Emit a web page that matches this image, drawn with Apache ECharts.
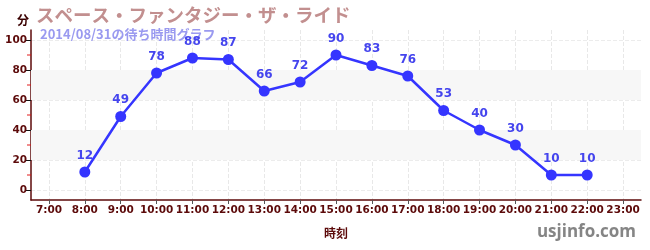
<!DOCTYPE html>
<html>
<head>
<meta charset="utf-8">
<script src="https://cdn.jsdelivr.net/npm/echarts@6/dist/echarts.min.js"></script>
<style>
    html, body { margin: 0; padding: 0; background: #fff; }
    #chart { width: 650px; height: 250px; }
</style>
</head>
<body>
<div id="chart"></div>
<script>
// 待ち時間データ
var hours = [8, 9, 10, 11, 12, 13, 14, 15, 16, 17, 18, 19, 20, 21, 22];
var waitTimes = [12, 49, 78, 88, 87, 66, 72, 90, 83, 76, 53, 40, 30, 10, 10];
var xTicks = [7, 8, 9, 10, 11, 12, 13, 14, 15, 16, 17, 18, 19, 20, 21, 22, 23];
var yTicks = [0, 20, 40, 60, 80, 100];
var yMinorTicks = [10, 30, 50, 70, 90];

var titleText = 'スペース・ファンタジー・ザ・ライド';
var subText = '2014/08/31の待ち時間グラフ';

var axisColor = '#5c0a0a';
var font = '"DejaVu Sans", "Noto Sans CJK JP", sans-serif';

function initChart() {
    var seriesData = [];
    for (var i = 0; i < hours.length; i++) {
        seriesData.push([hours[i], waitTimes[i]]);
    }
    var myChart = echarts.init(document.getElementById('chart'));
    var option = {
        animation: false,
        textStyle: {fontFamily: font},
        title: [{
            text: titleText,
            left: 31,
            top: 1,
            textStyle: {
                color: '#c28f8f',
                fontSize: 18.5,
                fontWeight: 'bold',
                fontFamily: '"Noto Sans CJK JP", sans-serif'
            }
        }, {
            text: subText,
            left: 35,
            top: 23,
            textStyle: {
                color: '#9a9af0',
                fontSize: 13,
                fontWeight: 'bold',
                fontFamily: '"Noto Sans CJK JP", sans-serif'
            }
        }, {
            text: '分',
            left: 12,
            top: 9,
            textStyle: {
                color: '#3a0000',
                fontSize: 12,
                fontWeight: 'bold',
                fontFamily: '"Noto Sans CJK JP", sans-serif'
            }
        }, {
            text: 'usjinfo.com',
            right: 9,
            top: 219,
            textStyle: {
                color: '#858585',
                fontSize: 17,
                fontWeight: 'bold',
                fontFamily: '"Open Sans", "DejaVu Sans", sans-serif'
            }
        }],
        grid: {
            left: 31,
            right: 9,
            top: 30,
            bottom: 50,
            containLabel: false
        },
        xAxis: {
            type: 'value',
            min: 6.5,
            max: 23.5,
            name: '時刻',
            nameLocation: 'middle',
            nameGap: 27,
            nameTextStyle: {
                color: axisColor,
                fontSize: 12,
                fontWeight: 'bold',
                fontFamily: '"Noto Sans CJK JP", sans-serif'
            },
            axisLine: {
                show: true,
                onZero: false,
                lineStyle: {color: axisColor, width: 1.5}
            },
            axisTick: {
                show: true,
                customValues: xTicks,
                length: 4,
                lineStyle: {color: '#555'}
            },
            axisLabel: {
                customValues: xTicks,
                color: axisColor,
                fontSize: 10.5,
                fontWeight: 'bold',
                margin: 5,
                formatter: function (v) {
                    return v + ':00';
                }
            },
            splitLine: {
                show: true,
                lineStyle: {color: '#e8e8e8', type: 'dashed'}
            }
        },
        yAxis: {
            type: 'value',
            min: -20 / 3,
            max: 320 / 3,
            axisLine: {
                show: true,
                lineStyle: {color: axisColor, width: 1.5}
            },
            axisTick: {
                show: true,
                customValues: yTicks,
                length: 5,
                lineStyle: {color: '#111'}
            },
            minorTick: {show: false},
            axisLabel: {
                customValues: yTicks,
                color: axisColor,
                fontSize: 10.5,
                fontWeight: 'bold',
                margin: 4
            },
            splitLine: {
                show: true,
                lineStyle: {color: '#ececec', type: 'dashed'}
            }
        },
        series: [{
            // 灰色の帯
            type: 'line',
            data: [],
            silent: true,
            markArea: {
                silent: true,
                itemStyle: {color: '#f7f7f7'},
                data: [
                    [{yAxis: 20}, {yAxis: 40}],
                    [{yAxis: 60}, {yAxis: 80}]
                ]
            }
        }, {
            // 副目盛り(赤)
            type: 'scatter',
            data: yMinorTicks.map(function (v) { return [6.5, v]; }),
            symbol: 'rect',
            symbolSize: [4, 1.2],
            symbolOffset: [-2, 0],
            clip: false,
            silent: true,
            itemStyle: {color: '#e01010'},
            z: 5
        }, {
            name: '待ち時間',
            type: 'line',
            data: seriesData,
            symbol: 'circle',
            symbolSize: 11,
            z: 10,
            lineStyle: {color: '#3535ff', width: 2.5},
            itemStyle: {color: '#3535ff'},
            label: {
                show: true,
                position: 'top',
                distance: 5,
                color: '#4545ee',
                fontSize: 12,
                fontWeight: 'bold'
            }
        }]
    };
    myChart.setOption(option);
}

initChart();
</script>
</body>
</html>
